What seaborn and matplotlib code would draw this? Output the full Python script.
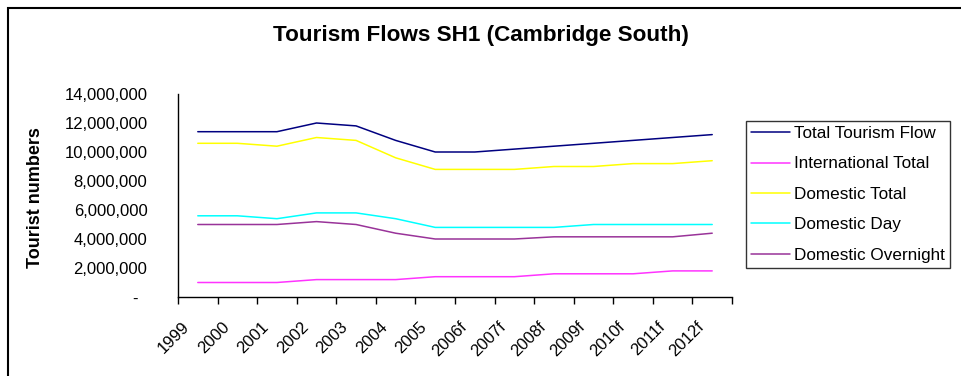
import numpy as np
import pandas as pd
import matplotlib
matplotlib.use("Agg")
import matplotlib.pyplot as plt
from matplotlib.patches import Rectangle
from matplotlib.ticker import FuncFormatter
import seaborn as sns

years = ["1999", "2000", "2001", "2002", "2003", "2004", "2005",
         "2006f", "2007f", "2008f", "2009f", "2010f", "2011f", "2012f"]

total_flow = [11.4, 11.4, 11.4, 12.0, 11.8, 10.8, 10.0,
              10.0, 10.2, 10.4, 10.6, 10.8, 11.0, 11.2]
international_total = [1.0, 1.0, 1.0, 1.2, 1.2, 1.2, 1.4,
                       1.4, 1.4, 1.6, 1.6, 1.6, 1.8, 1.8]
domestic_total = [10.6, 10.6, 10.4, 11.0, 10.8, 9.6, 8.8,
                  8.8, 8.8, 9.0, 9.0, 9.2, 9.2, 9.4]
domestic_day = [5.6, 5.6, 5.4, 5.8, 5.8, 5.4, 4.8,
                4.8, 4.8, 4.8, 5.0, 5.0, 5.0, 5.0]
domestic_overnight = [5.0, 5.0, 5.0, 5.2, 5.0, 4.4, 4.0,
                      4.0, 4.0, 4.15, 4.15, 4.15, 4.15, 4.4]

series_names = ["Total Tourism Flow", "International Total", "Domestic Total",
                "Domestic Day", "Domestic Overnight"]
series_values = [total_flow, international_total, domestic_total,
                 domestic_day, domestic_overnight]
series_colors = ["#000080", "#ff33ff", "#ffff00", "#00ffff", "#993399"]

frames = []
for name, vals in zip(series_names, series_values):
    frames.append(pd.DataFrame({"Year": years,
                                "Visitors": np.array(vals) * 1_000_000,
                                "Series": name}))
df = pd.concat(frames, ignore_index=True)

sns.set_theme(style="white")
plt.rcParams["font.family"] = ["Liberation Sans", "DejaVu Sans"]
plt.rcParams.update({"text.color": "black", "axes.labelcolor": "black",
                     "xtick.color": "black", "ytick.color": "black"})

fig = plt.figure(figsize=(9.61, 3.76), dpi=100)
ax = fig.add_axes([178 / 961, 1 - 297 / 376, (732 - 178) / 961, (297 - 94) / 376])

sns.lineplot(data=df, x="Year", y="Visitors", hue="Series",
             hue_order=series_names, palette=dict(zip(series_names, series_colors)),
             linewidth=1.1, ax=ax, sort=False)

ax.set_xlim(-0.5, len(years) - 0.5)
ax.set_ylim(0, 14_000_000)
ax.set_yticks(np.arange(0, 14_000_001, 2_000_000))
ax.yaxis.set_major_formatter(FuncFormatter(
    lambda v, _: "-  " if v == 0 else f"{int(v):,}"))
ax.tick_params(axis="y", direction="out", length=5, width=1, color="black",
               pad=17, labelsize=12, labelcolor="black")

# boundary ticks between categories, labels offset just past each boundary
ax.set_xticks(np.arange(len(years) + 1) - 0.5)
ax.set_xticklabels([])
ax.set_xticks(np.arange(len(years)) - 0.4, minor=True)
ax.set_xticklabels(years, minor=True, rotation=45, ha="right",
                   rotation_mode="anchor", fontsize=12)
ax.tick_params(axis="x", which="major", direction="out", length=5, width=1,
               color="black", bottom=True)
ax.tick_params(axis="x", which="minor", length=0, pad=16, labelcolor="black")

for side in ["top", "right"]:
    ax.spines[side].set_visible(False)
for side in ["left", "bottom"]:
    ax.spines[side].set_color("black")
    ax.spines[side].set_linewidth(1)

ax.set_xlabel("")
ax.set_ylabel("")
fig.text(35 / 961, 1 - 198 / 376, "Tourist numbers", rotation=90,
         ha="center", va="center", fontsize=13, fontweight="bold")
fig.text(481 / 961, 1 - 36 / 376, "Tourism Flows SH1 (Cambridge South)",
         ha="center", va="center", fontsize=16.2, fontweight="bold")

handles, labels = ax.get_legend_handles_labels()
ax.legend_.remove()
leg = fig.legend(handles, labels, loc="upper left",
                 bbox_to_anchor=(746 / 961, 1 - 121 / 376),
                 bbox_transform=fig.transFigure, frameon=True, fancybox=False,
                 fontsize=12.3, handlelength=2.3, handletextpad=0.2,
                 labelspacing=0.9, borderpad=0.3, borderaxespad=0)
leg.get_frame().set_edgecolor("black")
leg.get_frame().set_linewidth(1)

# outer chart frame, running off the right and bottom edges
fig.patches.append(Rectangle((8 / 961, -0.1), 1.2, 1 - 7.5 / 376 + 0.1,
                             transform=fig.transFigure, fill=False,
                             edgecolor="black", linewidth=1.5))

fig.savefig("out.png", dpi=100)
